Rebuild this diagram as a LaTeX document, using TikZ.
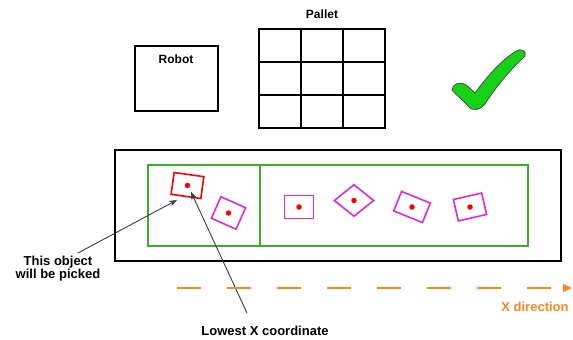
\documentclass[tikz,border=0pt]{standalone}
\usepackage{fontspec}
\setmainfont{Liberation Sans}
\usetikzlibrary{arrows.meta,shapes.geometric}
\definecolor{boxgreen}{RGB}{60,175,40}
\definecolor{objmag}{RGB}{225,40,225}
\definecolor{dirorange}{RGB}{255,135,30}
\definecolor{tickgreen}{RGB}{20,210,20}
\definecolor{pointer}{RGB}{60,60,60}
\tikzset{
  frame/.style={draw=black, line width=1.5pt, inner sep=0pt},
  lane/.style={draw=boxgreen, line width=1.4pt},
  part/.style={draw=objmag, line width=1.6pt, inner sep=0pt, minimum width=29pt, minimum height=22pt},
  picked/.style={part, draw=red},
  centre/.style={circle, fill=red, inner sep=0pt, minimum size=5.5pt},
  callout/.style={draw=pointer, line width=0.9pt, -{Stealth[length=8pt,width=6pt]}},
  lbl/.style={font=\bfseries\fontsize{13}{13.5}\selectfont, align=center, inner sep=0pt},
  smalllbl/.style={font=\bfseries\fontsize{12}{14}\selectfont, inner sep=0pt}
}
\begin{document}
\begin{tikzpicture}[x=1pt,y=-1pt]
\useasboundingbox (0,0) rectangle (573,340);

% robot cell
\node[frame, minimum width=83pt, minimum height=65pt] (robot) at (176.5,78.5) {};
\node[smalllbl] (robotlbl) at (176,59) {Robot};

% pallet grid 3x3
\node[frame, minimum width=126pt, minimum height=99pt] (pallet) at (322,78.5) {};
\draw[line width=1.5pt] (301,29) -- (301,128) (343,29) -- (343,128)
  (259,62) -- (385,62) (259,95) -- (385,95);
\node[smalllbl] (palletlbl) at (322,14) {Pallet};

% green tick
\filldraw[fill=tickgreen, draw=black!70, line width=0.8pt]
  (452,90) .. controls (452,84) and (460,81) .. (466,85)
  .. controls (470,88) and (473,91) .. (475,93)
  .. controls (488,75) and (502,60) .. (516,51)
  .. controls (521,48) and (527,51) .. (525,56)
  .. controls (510,70) and (495,88) .. (485,104)
  .. controls (481,110) and (472,112) .. (468,106)
  .. controls (463,100) and (456,95) .. (452,90) -- cycle;

% conveyor
\node[frame, minimum width=446pt, minimum height=111pt] (conveyor) at (338,205.5) {};
\node[lane, minimum width=380pt, minimum height=81pt, inner sep=0pt] (zone) at (338,205.5) {};
\draw[lane] (260,165) -- (260,246);

% parts on the belt
\node[picked, minimum width=30pt, rotate=-8] (p0) at (187.5,185.5) {};
\node[part, minimum width=27pt, minimum height=23.5pt, rotate=-24] (p1) at (228.5,213) {};
\node[part, minimum height=23pt] (p2) at (299,207) {};
\node[diamond, draw=objmag, line width=1.6pt, inner sep=0pt, minimum width=40pt, minimum height=32pt] (p3) at (354,200.5) {};
\node[part, minimum width=31pt, minimum height=21pt, rotate=-22] (p4) at (412,207) {};
\node[part, rotate=13] (p5) at (470,207) {};
\foreach \n in {p0,p1,p2,p3,p4,p5} \node[centre] at (\n.center) {};

% callouts
\node[lbl] (pickedlbl) at (58,268.5) {This object\\will be picked};
\node[lbl] (lowestlbl) at (265,331) {Lowest X coordinate};
\coordinate (pickedtail) at (78,253);
\coordinate (pickedtip) at (177,200);
\coordinate (lowesttail) at (247,313);
\coordinate (lowesttip) at (191,192);
\draw[callout] (pickedtail) -- (pickedtip);
\draw[callout] (lowesttail) -- (lowesttip);

% direction of travel
\coordinate (dirstart) at (177,288);
\coordinate (dirend) at (572,288);
\draw[draw=dirorange, line width=1.5pt, dash pattern=on 24pt off 26pt,
  -{Triangle[length=9pt,width=8pt]}] (dirstart) -- (dirend);
\node[lbl, text=dirorange] (dirlbl) at (535,307) {X direction};
\end{tikzpicture}
\end{document}
